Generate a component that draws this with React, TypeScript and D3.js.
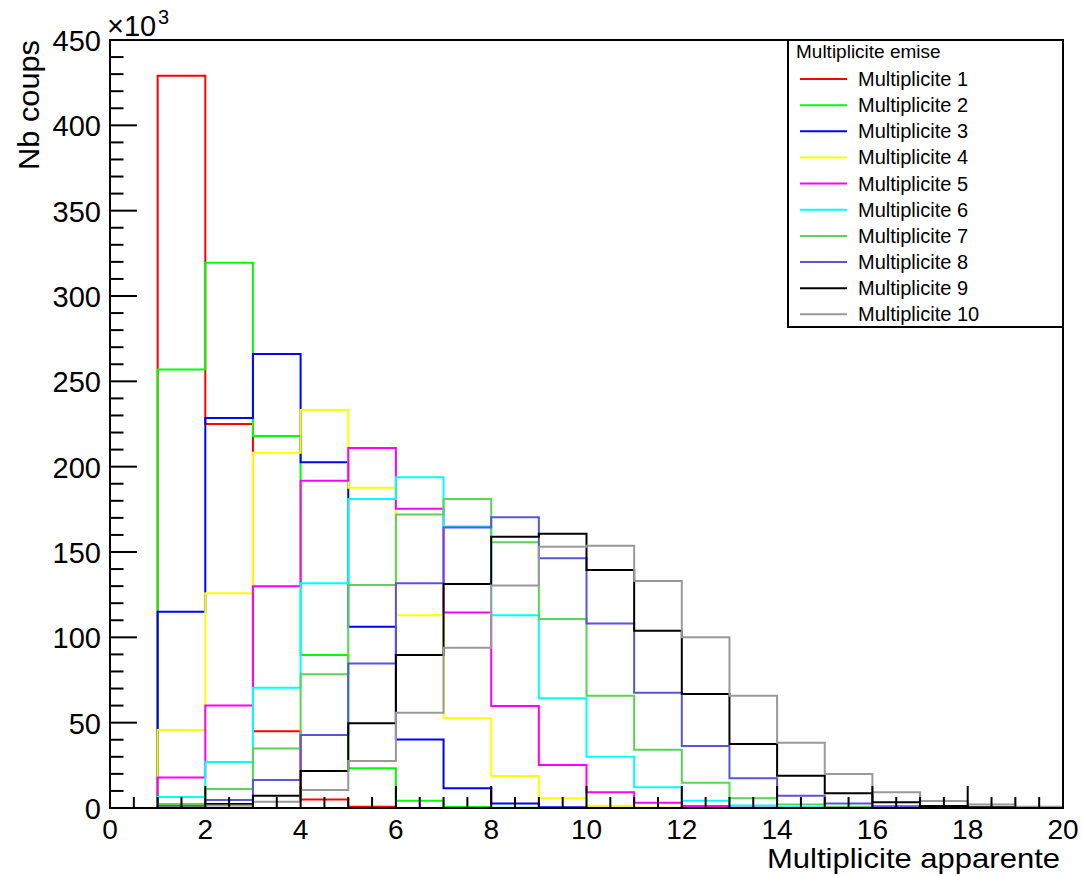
import React from "react";
import * as d3 from "d3";

// bins 0..19 (bin i covers [i, i+1]); values in thousands of counts
const binEdges = d3.range(0, 21);
const m1 = [0, 429, 225, 45, 5, 0.8, 0, 0, 0, 0, 0, 0, 0, 0, 0, 0, 0, 0, 0, 0];
const m2 = [0, 257, 319.5, 218, 89.7, 23.3, 4.3, 0.6, 0.1, 0, 0, 0, 0, 0, 0, 0, 0, 0, 0, 0];
const m3 = [0, 115, 228.5, 266, 202.6, 106.2, 40.2, 11.5, 2.7, 0.5, 0.1, 0, 0, 0, 0, 0, 0, 0, 0, 0];
const m4 = [0, 45.7, 125.8, 208.2, 233.2, 187.7, 113, 52.6, 18.8, 5.7, 1.3, 0.3, 0.1, 0, 0, 0, 0, 0, 0, 0];
const m5 = [0, 17.8, 60, 130, 191.8, 211, 175.4, 114.6, 59.8, 25.2, 9.2, 3.1, 1.1, 0.3, 0.1, 0, 0, 0, 0, 0];
const m6 = [0, 6.4, 27, 70.5, 131.7, 181, 193.8, 164.9, 113, 64.3, 30.1, 12.1, 4.3, 1.4, 0.4, 0.1, 0, 0, 0, 0];
const m7 = [0, 2.3, 11.1, 34.9, 78.3, 130.7, 172, 181, 155.7, 110.8, 65.8, 34.2, 14.8, 5.7, 2.1, 0.7, 0.2, 0, 0, 0];
const m8 = [0, 1.2, 4.7, 16.4, 42.8, 84.6, 131.7, 164.3, 170.3, 146.3, 108.1, 67.6, 36.4, 17.4, 7.2, 2.7, 1, 0.3, 0.1, 0];
const m9 = [0, 0.5, 2.3, 7.2, 21.7, 49.6, 89.6, 131.3, 159, 160.7, 139.5, 103.9, 66.8, 37.5, 18.9, 8.6, 3.3, 1.2, 0.4, 0.1];
const m10 = [0, 0.4, 1.5, 3.6, 10.5, 27.5, 55.8, 93.9, 130.3, 153.1, 153.7, 133, 100, 65.8, 38.3, 19.9, 9.2, 4.1, 2, 0.8];

const seriesNames = [
  "Multiplicite 1", "Multiplicite 2", "Multiplicite 3", "Multiplicite 4", "Multiplicite 5",
  "Multiplicite 6", "Multiplicite 7", "Multiplicite 8", "Multiplicite 9", "Multiplicite 10",
];
const seriesValues = [m1, m2, m3, m4, m5, m6, m7, m8, m9, m10];
const seriesColors = [
  "#ff0000", "#00ff00", "#0000ff", "#ffff00", "#ff00ff",
  "#00ffff", "#59d454", "#5954d9", "#000000", "#999999",
];
const xTickLabels = [0, 2, 4, 6, 8, 10, 12, 14, 16, 18, 20];
const yTickLabels = [0, 50, 100, 150, 200, 250, 300, 350, 400, 450];

const W = 1082;
const H = 876;
const FONT = "'Liberation Sans', Arial, Helvetica, sans-serif";

export default function App() {
  const x = d3.scaleLinear().domain([0, 20]).range([110, 1063]);
  const y = d3.scaleLinear().domain([0, 450]).range([808, 40]);

  const line = d3
    .line<[number, number]>()
    .x((d) => x(d[0]))
    .y((d) => y(d[1]));

  const histPath = (vals: number[]) => {
    const pts: [number, number][] = [[binEdges[0], 0]];
    vals.forEach((v, i) => {
      pts.push([binEdges[i], v]);
      pts.push([binEdges[i + 1], v]);
    });
    return line(pts) as string;
  };

  const yMinor = d3.range(0, 451, 10);
  const xMinor = d3.range(0, 20.01, 0.5);

  const legendX0 = 788;
  const legendY0 = 40;
  const legendX1 = 1063;
  const legendY1 = 327;
  const rowY = (i: number) => 79 + i * 26.15;

  return (
    <svg
      width={W}
      height={H}
      style={{ position: "absolute", left: 0, top: 0, background: "#fff" }}
      fontFamily={FONT}
    >
      <rect x={0} y={0} width={W} height={H} fill="#fff" />

      {/* histograms */}
      {seriesValues.map((vals, i) => (
        <path
          key={seriesNames[i]}
          d={histPath(vals)}
          fill="none"
          stroke={seriesColors[i]}
          strokeWidth={2}
          strokeLinejoin="miter"
        />
      ))}

      {/* y ticks */}
      {yMinor.map((v) => {
        const major = v % 50 === 0;
        return (
          <line
            key={"yt" + v}
            x1={x(0)}
            x2={x(0) + (major ? 27 : 13.5)}
            y1={y(v)}
            y2={y(v)}
            stroke="#000"
            strokeWidth={2}
          />
        );
      })}
      {/* x ticks */}
      {xMinor.map((v) => {
        const major = Math.abs(v % 2) < 1e-6;
        return (
          <line
            key={"xt" + v}
            x1={x(v)}
            x2={x(v)}
            y1={y(0)}
            y2={y(0) - (major ? 22 : 11)}
            stroke="#000"
            strokeWidth={2}
          />
        );
      })}

      {/* frame */}
      <rect
        x={x(0)}
        y={y(450)}
        width={x(20) - x(0)}
        height={y(0) - y(450)}
        fill="none"
        stroke="#000"
        strokeWidth={2}
      />

      {/* y tick labels */}
      {yTickLabels.map((v) => (
        <text
          key={"yl" + v}
          x={101}
          y={y(v) + 11}
          textAnchor="end"
          fontSize={29}
          fill="#000"
        >
          {v}
        </text>
      ))}
      {/* multiplier */}
      <text x={107} y={36} fontSize={29} fill="#000">
        ×10
      </text>
      <text x={158} y={24} fontSize={20} fill="#000">
        3
      </text>

      {/* x tick labels */}
      {xTickLabels.map((v) => (
        <text
          key={"xl" + v}
          x={x(v)}
          y={839}
          textAnchor="middle"
          fontSize={28}
          fill="#000"
        >
          {v}
        </text>
      ))}

      {/* axis titles */}
      <text
        x={1060}
        y={868}
        textAnchor="end"
        fontSize={28}
        textLength={293}
        lengthAdjust="spacingAndGlyphs"
        fill="#000"
      >
        Multiplicite apparente
      </text>
      <text
        transform={`translate(39, 40) rotate(-90)`}
        textAnchor="end"
        fontSize={29}
        textLength={130}
        lengthAdjust="spacingAndGlyphs"
        fill="#000"
      >
        Nb coups
      </text>

      {/* legend */}
      <rect
        x={legendX0}
        y={legendY0}
        width={legendX1 - legendX0}
        height={legendY1 - legendY0}
        fill="#fff"
        stroke="#000"
        strokeWidth={2}
      />
      <text x={796} y={58} fontSize={19} fill="#000">
        Multiplicite emise
      </text>
      {seriesNames.map((name, i) => (
        <g key={"lg" + name}>
          <line
            x1={800}
            x2={847}
            y1={rowY(i)}
            y2={rowY(i)}
            stroke={seriesColors[i]}
            strokeWidth={2}
          />
          <text x={858} y={rowY(i) + 7} fontSize={20} fill="#000">
            {name}
          </text>
        </g>
      ))}
    </svg>
  );
}
